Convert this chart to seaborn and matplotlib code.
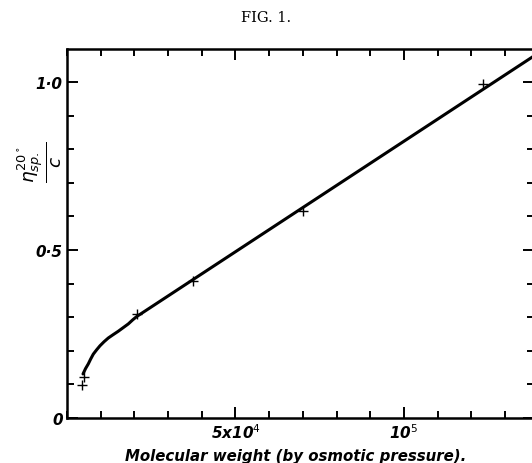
# fig1_viscosity.py
# specific viscosity vs molecular weight (osmotic pressure)

import numpy as np
import pandas as pd
import matplotlib
matplotlib.use("Agg")
import matplotlib.pyplot as plt
from matplotlib.ticker import MultipleLocator, FixedLocator
import seaborn as sns

# measured points (x in units of 1e4)
mol_weight = [0.45, 0.50, 2.07, 3.74, 7.0, 12.34]
visc = [0.098, 0.122, 0.31, 0.408, 0.616, 0.994]

# drawn curve
curve_mw = [0.475, 0.55, 0.632, 0.70, 0.78, 0.88, 0.98, 1.10, 1.225, 1.37,
            1.52, 1.67, 1.82, 1.95, 2.07, 13.9]
curve_visc = [0.131, 0.147, 0.161, 0.175, 0.190, 0.203, 0.215, 0.227, 0.238,
              0.248, 0.258, 0.269, 0.280, 0.292, 0.302, 1.08]

x_ticks = [5e4, 1e5]
x_tick_labels = [r"5x10$^4$", r"10$^5$"]
y_ticks = [0, 0.5, 1.0]
y_tick_labels = ["0", "0·5", "1·0"]

pts = pd.DataFrame({"mw": np.array(mol_weight) * 1e4, "visc": visc})
curve = pd.DataFrame({"mw": np.array(curve_mw) * 1e4, "visc": curve_visc})

sns.set_style("ticks")
plt.rcParams["font.family"] = ["DejaVu Sans"]
plt.rcParams["mathtext.default"] = "it"
plt.rcParams["text.color"] = "black"
plt.rcParams["axes.labelcolor"] = "black"
plt.rcParams["xtick.color"] = "black"
plt.rcParams["ytick.color"] = "black"

fig = plt.figure(figsize=(5.32, 4.64), dpi=100)
ax = fig.add_axes([67 / 532, 45 / 464, 467 / 532, 369 / 464])

sns.lineplot(data=curve, x="mw", y="visc", sort=False, color="black",
             linewidth=2.2, ax=ax)
sns.scatterplot(data=pts, x="mw", y="visc", marker="+", s=55,
                color="black", linewidth=1.0, ax=ax, zorder=3)

ax.set_xlim(0, 13.86e4)
ax.set_ylim(0, 1.098)

ax.xaxis.set_major_locator(FixedLocator(x_ticks))
ax.set_xticklabels(x_tick_labels)
ax.xaxis.set_minor_locator(MultipleLocator(1e4))
ax.yaxis.set_major_locator(FixedLocator(y_ticks))
ax.set_yticklabels(y_tick_labels)
ax.yaxis.set_minor_locator(MultipleLocator(0.1))

ax.tick_params(which="both", direction="in", top=True, right=True,
               width=1.4, color="black", labelcolor="black")
ax.tick_params(which="major", length=8, labelsize=11, pad=3)
ax.tick_params(which="minor", length=5)
for lab in ax.get_xticklabels() + ax.get_yticklabels():
    lab.set_fontstyle("italic")
    lab.set_fontweight("bold")

for sp in ax.spines.values():
    sp.set_linewidth(1.8)
    sp.set_color("black")

ax.set_xlabel("Molecular weight (by osmotic pressure).", fontsize=10.8,
              fontstyle="italic", fontweight="bold")
ax.xaxis.label.set_va("center")
ax.xaxis.set_label_coords((296 - 67) / 467, -(452 - 414) / 369)

ax.set_ylabel(r"$\frac{\eta^{20^\circ}_{sp.}}{c}$", fontsize=19)
ax.yaxis.label.set_va("center")
ax.yaxis.set_label_coords(-(67 - 40) / 467, (414 - 157) / 369)

fig.text(0.5, 1 - 18 / 464, "FIG. 1.", ha="center", va="center",
         fontsize=10.5, family="DejaVu Serif")

fig.savefig("out.png", dpi=100)
